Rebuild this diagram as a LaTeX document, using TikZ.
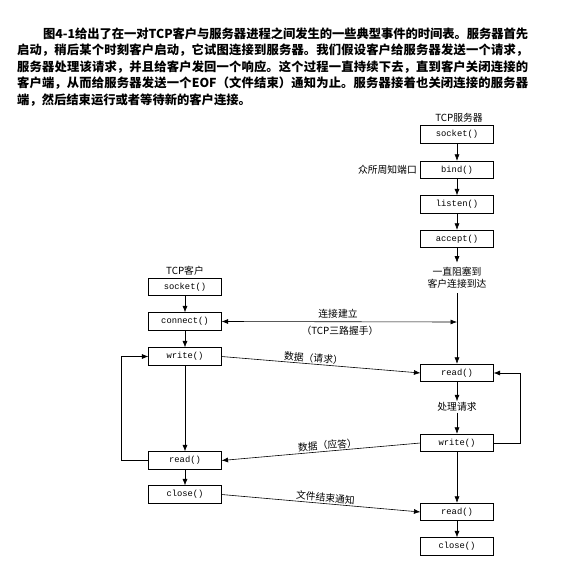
\documentclass[tikz,border=0pt]{standalone}
\usepackage{fontspec}
\setmainfont{Noto Sans CJK SC}
\setmonofont{Liberation Mono}
\usetikzlibrary{arrows.meta}
\XeTeXlinebreaklocale "zh"
\XeTeXlinebreakskip=0pt plus 1.5pt minus 0.3pt
\tikzset{
  fn/.style={draw, line width=0.7pt, minimum width=72.5pt, minimum height=17.5pt, inner sep=0pt, font=\ttfamily\fontsize{8.8}{10}\selectfont},
  lbl/.style={font=\fontsize{9.8}{12}\selectfont, inner sep=1pt},
  arr/.style={-{Latex[length=6.5pt,width=5pt]}, line width=0.6pt},
  dblarr/.style={{Latex[length=6.5pt,width=5pt]}-{Latex[length=6.5pt,width=5pt]}, line width=0.6pt}
}
\begin{document}
\begin{tikzpicture}[x=1pt,y=-1pt]
\useasboundingbox (0,0) rectangle (569,572);
% paragraph
\node[anchor=north west, inner sep=0pt, text width=511pt, align=justify, font=\bfseries\fontsize{12.3}{16.5}\selectfont] (para) at (17,27.5)
{\tolerance=9999\hspace*{26pt}图4-1给出了在一对TCP客户与服务器进程之间发生的一些典型事件的时间表。服务器首先\linebreak
启动，稍后某个时刻客户启动，它试图连接到服务器。我们假设客户给服务器发送一个请求，\linebreak
服务器处理该请求，并且给客户发回一个响应。这个过程一直持续下去，直到客户关闭连接的\linebreak
客户端，从而给服务器发送一个EOF（文件结束）通知为止。服务器接着也关闭连接的服务器\linebreak
端，然后结束运行或者等待新的客户连接。};
% server
\node[lbl] (stitle) at (459,118) {TCP服务器};
\node[fn] (ssocket) at (457,134.5) {socket()};
\node[fn] (sbind) at (457,170) {bind()};
\node[fn] (slisten) at (457,204.5) {listen()};
\node[fn] (saccept) at (457,239) {accept()};
\node[lbl, anchor=east] (port) at (418,170) {众所周知端口};
\node[lbl, align=center] (block) at (457,277.5) {一直阻塞到\\客户连接到达};
\node[fn] (sread) at (457,373) {read()};
\node[lbl] (proc) at (457,407) {处理请求};
\node[fn] (swrite) at (457,443) {write()};
\node[fn] (sread2) at (457,512) {read()};
\node[fn] (sclose) at (457,546.5) {close()};
% client
\node[lbl] (ctitle) at (185,271) {TCP客户};
\node[fn] (csocket) at (185,287) {socket()};
\node[fn] (cconnect) at (185,321.5) {connect()};
\node[fn] (cwrite) at (185,356.5) {write()};
\node[fn] (cread) at (185,460.5) {read()};
\node[fn] (cclose) at (185,494.5) {close()};
% handshake labels
\node[lbl] (hs1) at (338,314) {连接建立};
\node[lbl] (hs2) at (340,331) {（TCP三路握手）};
\coordinate (shs) at (457,322);
% server arrows
\draw[arr] (ssocket) -- (sbind);
\draw[arr] (sbind) -- (slisten);
\draw[arr] (slisten) -- (saccept);
\draw[arr, shorten >=3pt] (saccept) -- (block);
\draw[arr, shorten <=4pt] (block) -- (sread);
\draw[arr] (sread) -- (proc);
\draw[arr] (proc) -- (swrite);
\draw[arr] (swrite) -- (sread2);
\draw[arr] (sread2) -- (sclose);
\draw[arr] (swrite.east) -- ++(27,0) |- (sread.east);
% client arrows
\draw[arr] (csocket) -- (cconnect);
\draw[arr] (cconnect) -- (cwrite);
\draw[arr] (cwrite) -- (cread);
\draw[arr] (cread) -- (cclose);
\draw[arr] (cread.west) -- ++(-27,0) |- (cwrite.west);
% cross arrows
\draw[dblarr] (cconnect.east) -- (shs);
\draw[arr] (cwrite.east) -- node[lbl, sloped, above, pos=0.46] {数据（请求）} (sread.west);
\draw[arr] (swrite.west) -- node[lbl, sloped, above, pos=0.465] {数据（应答）} (cread.east);
\draw[arr] (cclose.east) -- node[lbl, sloped, above, pos=0.52] {文件结束通知} (sread2.west);
\end{tikzpicture}
\end{document}
